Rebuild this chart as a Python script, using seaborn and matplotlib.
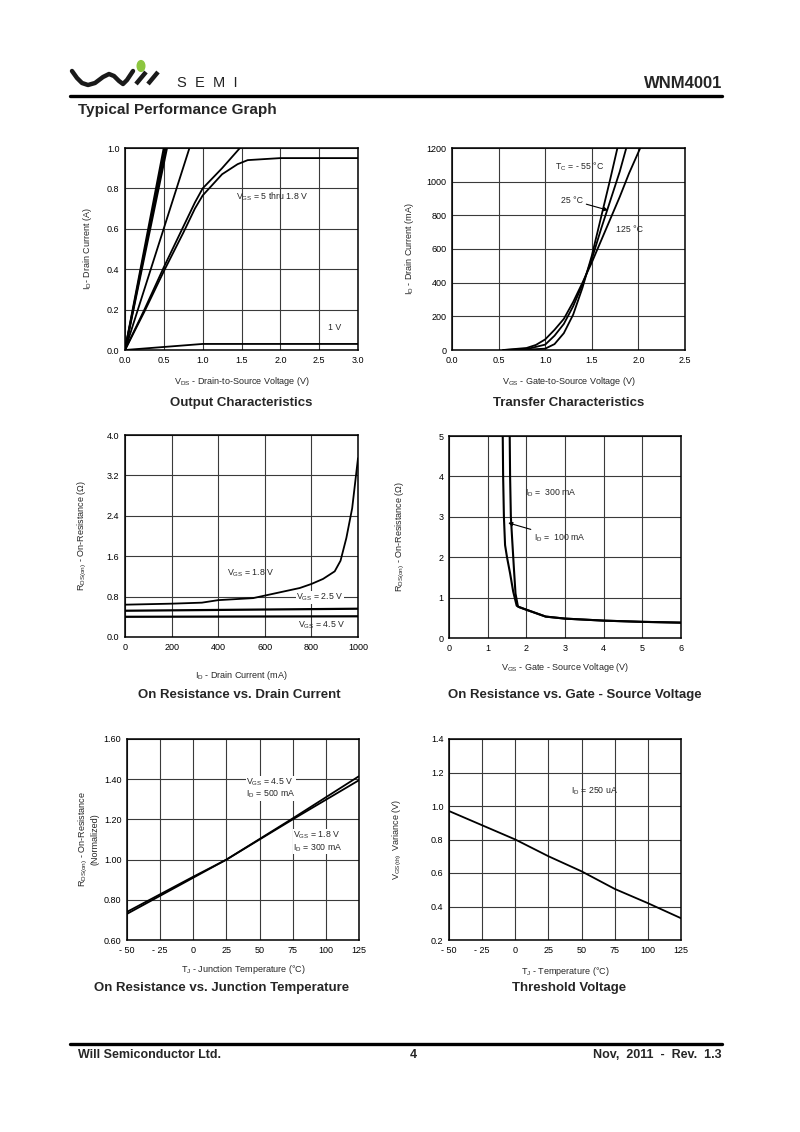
import numpy as np
import pandas as pd
import seaborn as sns
import matplotlib.pyplot as plt
from matplotlib.lines import Line2D
from matplotlib.patches import Circle

# ---- data ----
# Output characteristics: VDS (V) vs ID (A)
out_steep1_x = [0.0, 0.50]
out_steep1_y = [0.0, 1.0]
out_steep2_x = [0.0, 0.52]
out_steep2_y = [0.0, 1.0]
out_steep3_x = [0.0, 0.54]
out_steep3_y = [0.0, 1.0]
out_mid_x = [0.0, 0.83]
out_mid_y = [0.0, 1.0]
out_2v_x = [0.0, 0.25, 0.5, 0.75, 0.9, 1.0, 1.25, 1.48]
out_2v_y = [0.0, 0.20, 0.41, 0.61, 0.73, 0.80, 0.90, 1.0]
out_1v8_x = [0.0, 0.25, 0.5, 0.75, 0.9, 1.0, 1.25, 1.45, 1.58, 2.0, 3.0]
out_1v8_y = [0.0, 0.19, 0.39, 0.58, 0.70, 0.765, 0.87, 0.92, 0.94, 0.95, 0.95]
out_1v_x = [0.0, 0.5, 1.0, 3.0]
out_1v_y = [0.0, 0.015, 0.03, 0.03]

# Transfer characteristics: VGS (V) vs ID (mA)
tr_m55_x = [0.55, 0.8, 1.0, 1.1, 1.2, 1.3, 1.4, 1.5, 1.6, 1.7, 1.775]
tr_m55_y = [0, 2, 8, 35, 100, 210, 370, 560, 790, 1020, 1200]
tr_25_x = [0.55, 0.8, 1.0, 1.1, 1.2, 1.3, 1.4, 1.5, 1.6, 1.7, 1.8, 1.87]
tr_25_y = [0, 5, 32, 85, 155, 260, 390, 540, 720, 890, 1060, 1200]
tr_125_x = [0.55, 0.8, 0.9, 1.0, 1.1, 1.2, 1.3, 1.4, 1.5, 1.6, 1.7, 1.8, 1.9, 2.02]
tr_125_y = [0, 12, 30, 63, 120, 185, 285, 400, 520, 650, 780, 910, 1050, 1200]

# On resistance vs drain current: ID (mA) vs RDS(on) (ohm)
rid_x_18 = [0, 200, 330, 400, 550, 600, 700, 750, 800, 850, 900, 925, 950, 975, 1000]
rid_y_18 = [0.64, 0.66, 0.68, 0.73, 0.77, 0.82, 0.92, 0.97, 1.05, 1.15, 1.30, 1.51, 1.96, 2.55, 3.54]
rid_x_25 = [0, 1000]
rid_y_25 = [0.52, 0.56]
rid_x_45 = [0, 1000]
rid_y_45 = [0.40, 0.41]

# On resistance vs VGS
rvg_x_100 = [1.39, 1.40, 1.42, 1.45, 1.50, 1.58, 1.66, 1.75, 1.80, 2.0, 2.5, 3.0, 4.0, 5.0, 6.0]
rvg_y_100 = [5.0, 4.0, 3.0, 2.3, 2.0, 1.6, 1.15, 0.80, 0.77, 0.70, 0.53, 0.48, 0.43, 0.40, 0.38]
rvg_x_300 = [1.57, 1.58, 1.60, 1.63, 1.68, 1.72, 1.78, 1.80, 2.0, 2.5, 3.0, 4.0, 5.0, 6.0]
rvg_y_300 = [5.0, 4.0, 3.0, 2.5, 1.7, 1.1, 0.79, 0.77, 0.70, 0.53, 0.48, 0.43, 0.40, 0.38]

# On resistance vs junction temperature (normalized)
rtj_x = [-50, 0, 25, 75, 125]
rtj_y_45 = [0.73, 0.91, 1.0, 1.205, 1.415]
rtj_y_18 = [0.74, 0.915, 1.0, 1.20, 1.395]

# Threshold voltage vs temperature
vth_x = [-50, 0, 25, 50, 75, 100, 125]
vth_y = [0.97, 0.80, 0.70, 0.61, 0.505, 0.42, 0.33]

sns.set_theme(style="white")
plt.rcParams['font.family'] = ['Liberation Sans', 'DejaVu Sans']
plt.rcParams['mathtext.fontset'] = 'custom'
plt.rcParams['mathtext.rm'] = 'Liberation Sans'
plt.rcParams['mathtext.it'] = 'Liberation Sans:italic'

W, H = 800, 1132
fig = plt.figure(figsize=(8, 11.32), dpi=100)


def px(x, y):
    return x / W, 1 - y / H


def make_ax(left, top, right, bottom):
    ax = fig.add_axes([left / W, 1 - bottom / H, (right - left) / W, (bottom - top) / H])
    for s in ax.spines.values():
        s.set_color('black')
        s.set_linewidth(1.1)
    ax.grid(True, color='#3a3a3a', lw=0.8)
    ax.tick_params(length=0, labelsize=6.5, pad=4, colors='black')
    return ax


def labels(ax, xl, yl, xlabel_y, ylabel_x, box):
    left, top, right, bottom = box
    ax.set_xlabel(xl, fontsize=6.5)
    ax.set_ylabel(yl, fontsize=6.5)
    ax.xaxis.set_label_coords(0.5, (bottom - xlabel_y) / (bottom - top))
    ax.xaxis.label.set_va('center')
    ax.yaxis.set_label_coords((ylabel_x - left) / (right - left), 0.5)
    ax.yaxis.label.set_va('center')


def line(ax, x, y, lw=1.3):
    sns.lineplot(x=x, y=y, ax=ax, color='black', lw=lw, sort=False, estimator=None)


def title(x, y, s):
    fig.text(*px(x, y), s, ha='center', va='center', fontsize=9.5, fontweight='bold')


# ---- panel 1: output characteristics ----
b1 = (125, 148, 358, 350)
ax1 = make_ax(*b1)
for xs, ys in [(out_steep1_x, out_steep1_y), (out_steep2_x, out_steep2_y),
               (out_steep3_x, out_steep3_y)]:
    line(ax1, xs, ys, lw=1.5)
for xs, ys in [(out_mid_x, out_mid_y), (out_2v_x, out_2v_y),
               (out_1v8_x, out_1v8_y), (out_1v_x, out_1v_y)]:
    line(ax1, xs, ys)
ax1.set_xlim(0, 3.0)
ax1.set_ylim(0, 1.0)
ax1.set_xticks(np.arange(0, 3.01, 0.5))
ax1.set_yticks(np.arange(0, 1.01, 0.2))
ax1.xaxis.set_major_formatter('{x:.1f}')
ax1.yaxis.set_major_formatter('{x:.1f}')
ax1.text(1.43, 0.76, r'V$_{\mathrm{GS}}$ = 5 thru 1.8 V', fontsize=6.3, va='center')
ax1.text(2.61, 0.11, '1 V', fontsize=6.3, va='center')
labels(ax1, r'V$_{\mathrm{DS}}$ - Drain-to-Source Voltage (V)', r'I$_{\mathrm{D}}$- Drain Current (A)',
       382, 87, b1)
title(241, 403, 'Output Characteristics')

# ---- panel 2: transfer characteristics ----
b2 = (452, 148, 685, 350)
ax2 = make_ax(*b2)
for xs, ys in [(tr_m55_x, tr_m55_y), (tr_25_x, tr_25_y), (tr_125_x, tr_125_y)]:
    line(ax2, xs, ys)
ax2.set_xlim(0, 2.5)
ax2.set_ylim(0, 1200)
ax2.set_xticks(np.arange(0, 2.51, 0.5))
ax2.set_yticks(np.arange(0, 1201, 200))
ax2.xaxis.set_major_formatter('{x:.1f}')
ax2.text(1.11, 1087, r'T$_{\mathrm{C}}$ = - 55 °C', fontsize=6.3, va='center')
ax2.annotate('25 °C', xy=(1.675, 830), xytext=(1.17, 890), fontsize=6.3, va='center',
             arrowprops=dict(arrowstyle='-|>', color='black', lw=0.8, mutation_scale=6,
                             shrinkA=0, shrinkB=0))
ax2.text(1.76, 716, '125 °C', fontsize=6.3, va='center')
labels(ax2, r'V$_{\mathrm{GS}}$ - Gate-to-Source Voltage (V)', r'I$_{\mathrm{D}}$ - Drain Current (mA)',
       382, 410, b2)
title(569, 403, 'Transfer Characteristics')

# ---- panel 3: on resistance vs drain current ----
b3 = (125, 435, 358, 637)
ax3 = make_ax(*b3)
line(ax3, rid_x_18, rid_y_18)
line(ax3, rid_x_25, rid_y_25, lw=1.6)
line(ax3, rid_x_45, rid_y_45, lw=1.6)
ax3.set_xlim(0, 1000)
ax3.set_ylim(0, 4.0)
ax3.set_xticks(np.arange(0, 1001, 200))
ax3.set_yticks(np.arange(0, 4.01, 0.8))
ax3.yaxis.set_major_formatter('{x:.1f}')
ax3.text(436, 1.27, r'V$_{\mathrm{GS}}$ = 1.8 V', fontsize=6.3, va='center')
ax3.text(735, 0.78, r'V$_{\mathrm{GS}}$ = 2.5 V', fontsize=6.3, va='center',
         bbox=dict(facecolor='white', edgecolor='none', pad=0.5))
ax3.text(743, 0.23, r'V$_{\mathrm{GS}}$ = 4.5 V', fontsize=6.3, va='center')
labels(ax3, r'I$_{\mathrm{D}}$ - Drain Current (mA)', r'R$_{\mathrm{DS(on)}}$ - On-Resistance ($\Omega$)',
       676, 82, b3)
title(239, 695, 'On Resistance vs. Drain Current')

# ---- panel 4: on resistance vs gate-source voltage ----
b4 = (449, 436, 681, 638)
ax4 = make_ax(*b4)
line(ax4, rvg_x_100, rvg_y_100, lw=1.5)
line(ax4, rvg_x_300, rvg_y_300, lw=1.5)
ax4.set_xlim(0, 6)
ax4.set_ylim(0, 5)
ax4.set_xticks(np.arange(0, 7, 1))
ax4.set_yticks(np.arange(0, 6, 1))
ax4.text(1.97, 3.59, r'I$_{\mathrm{D}}$ =  300 mA', fontsize=6.3, va='center')
ax4.annotate(r'I$_{\mathrm{D}}$ =  100 mA', xy=(1.53, 2.85), xytext=(2.2, 2.48), fontsize=6.3,
             va='center', arrowprops=dict(arrowstyle='-|>', color='black', lw=0.8,
                                          mutation_scale=6, shrinkA=0, shrinkB=0))
labels(ax4, r'V$_{\mathrm{GS}}$ - Gate - Source Voltage (V)', r'R$_{\mathrm{DS(on)}}$ - On-Resistance ($\Omega$)',
       668, 400, b4)
title(575, 695, 'On Resistance vs. Gate - Source Voltage')

# ---- panel 5: on resistance vs junction temperature ----
b5 = (127, 739, 359, 940)
ax5 = make_ax(*b5)
line(ax5, rtj_x, rtj_y_45)
line(ax5, rtj_x, rtj_y_18)
temp_ticks = [-50, -25, 0, 25, 50, 75, 100, 125]
temp_labels = ['- 50', '- 25', '0', '25', '50', '75', '100', '125']
ax5.set_xlim(-50, 125)
ax5.set_ylim(0.6, 1.6)
ax5.set_xticks(temp_ticks, temp_labels)
ax5.set_yticks(np.arange(0.6, 1.61, 0.2))
ax5.yaxis.set_major_formatter('{x:.2f}')
ax5.text(40, 1.355, 'V$_{\\mathrm{GS}}$ = 4.5 V\nI$_{\\mathrm{D}}$ = 500 mA', fontsize=6.3,
         va='center', linespacing=1.0, bbox=dict(facecolor='white', edgecolor='none', pad=0.5))
ax5.text(75.5, 1.09, 'V$_{\\mathrm{GS}}$ = 1.8 V\nI$_{\\mathrm{D}}$ = 300 mA', fontsize=6.3,
         va='center', linespacing=1.0, bbox=dict(facecolor='white', edgecolor='none', pad=0.5))
labels(ax5, r'T$_{\mathrm{J}}$ - Junction Temperature (°C)',
       'R$_{\\mathrm{DS(on)}}$ - On-Resistance\n(Normalized)', 970, 88, b5)
ax5.yaxis.label.set_linespacing(1.1)
title(222, 988, 'On Resistance vs. Junction Temperature')

# ---- panel 6: threshold voltage ----
b6 = (449, 739, 681, 940)
ax6 = make_ax(*b6)
line(ax6, vth_x, vth_y)
ax6.set_xlim(-50, 125)
ax6.set_ylim(0.2, 1.4)
ax6.set_xticks(temp_ticks, temp_labels)
ax6.set_yticks(np.arange(0.2, 1.41, 0.2))
ax6.yaxis.set_major_formatter('{x:.1f}')
ax6.text(42, 1.09, r'I$_{\mathrm{D}}$ = 250 uA', fontsize=6.3, va='center')
labels(ax6, r'T$_{\mathrm{J}}$ - Temperature (°C)', r'V$_{\mathrm{GS(th)}}$  Variance (V)',
       972, 397, b6)
title(569, 988, 'Threshold Voltage')

# ---- page header / footer ----
fig.add_artist(Line2D([70 / W, 722 / W], [1 - 96 / H] * 2, color='black', lw=2.4))
fig.add_artist(Line2D([70 / W, 722 / W], [1 - 1044 / H] * 2, color='black', lw=2.4))

# logo: wave + two slashes + green dot
wave = [(72, 71), (77, 78), (82, 83), (88, 85), (95, 83), (103, 77), (109, 74),
        (114, 76), (119, 81), (123, 84), (127, 80), (133, 71)]
fig.add_artist(Line2D([p[0] / W for p in wave], [1 - p[1] / H for p in wave],
                      color='#1a1a1a', lw=3.2, solid_capstyle='round', solid_joinstyle='round'))
for x0 in (136, 148):
    fig.add_artist(Line2D([x0 / W, (x0 + 10) / W], [1 - 84 / H, 1 - 72 / H],
                          color='#1a1a1a', lw=3.2, solid_capstyle='butt'))
fig.add_artist(Circle(px(141, 66), 3.8 / W, transform=fig.transFigure, color='#8cc63f'))
fig.text(*px(177, 83), 'S  E  M  I', fontsize=10.5, va='center', color='#222222')

fig.text(*px(722, 84), 'WNM4001', fontsize=12, fontweight='bold', ha='right', va='center')
fig.text(*px(78, 110), 'Typical Performance Graph', fontsize=11, fontweight='bold', va='center')
fig.text(*px(78, 1055), 'Will Semiconductor Ltd.', fontsize=9, fontweight='bold', va='center')
fig.text(*px(413, 1055), '4', fontsize=9, fontweight='bold', ha='center', va='center')
fig.text(*px(722, 1055), 'Nov,  2011  -  Rev.  1.3', fontsize=9, fontweight='bold', ha='right',
         va='center')

fig.savefig('out.png', dpi=100, facecolor='white')
